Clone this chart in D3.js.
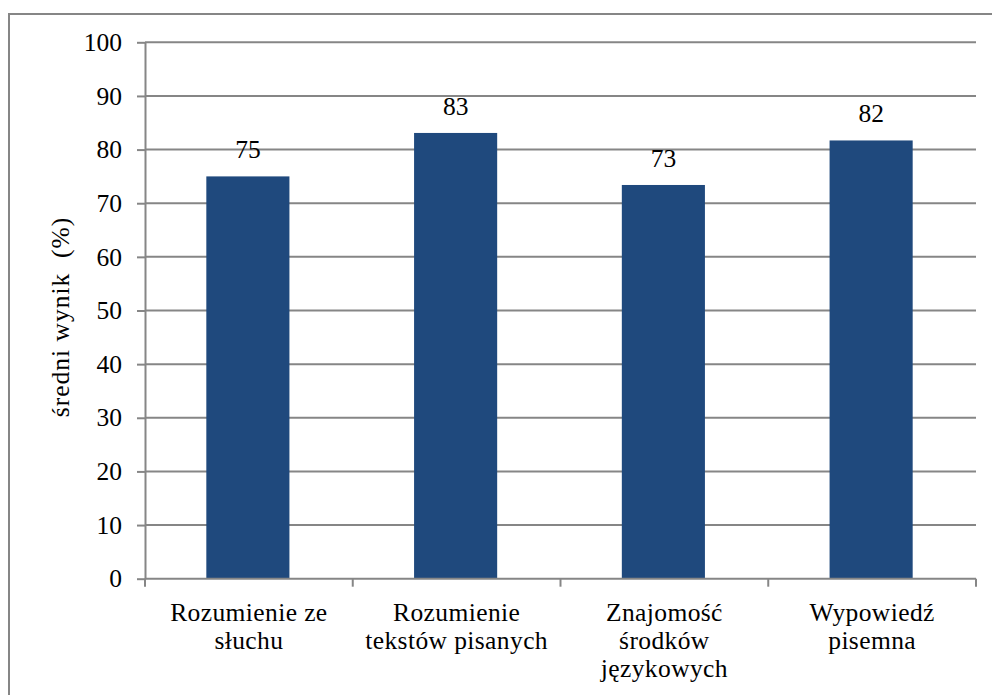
<!DOCTYPE html>
<html>
<head>
<meta charset="utf-8">
<script src="https://cdn.jsdelivr.net/npm/d3@7"></script>
</head>
<body style="margin:0">
<script>
// Data
const categories = [
  ["Rozumienie ze", "słuchu"],
  ["Rozumienie", "tekstów pisanych"],
  ["Znajomość", "środków", "językowych"],
  ["Wypowiedź", "pisemna"]
];
const values = [75.0, 83.1, 73.4, 81.7];
const yTicks = [0, 10, 20, 30, 40, 50, 60, 70, 80, 90, 100];
const yTitle = "średni wynik  (%)";

const W = 992, H = 695;
const margin = { left: 145, right: W - 976, top: 42.3, bottom: H - 578.7 };
const gray = "#868686";
const barColor = "#1F497D";
const fs = 25.5;
const FONT = "\"Liberation Serif\", monospace";

const wrap = d3.select("body").append("div")
  .style("position", "relative").style("width", W + "px").style("height", H + "px")
  .style("overflow", "hidden");

const svg = wrap.append("svg")
  .attr("width", W).attr("height", H)
  .style("position", "absolute").style("left", "0px").style("top", "0px");

// outer chart border
svg.append("rect")
  .attr("x", 9).attr("y", 14)
  .attr("width", W + 20).attr("height", H + 20)
  .attr("fill", "none").attr("stroke", gray).attr("stroke-width", 2);

const keys = categories.map((c, i) => i);
const x = d3.scaleBand().domain(keys)
  .range([margin.left, W - margin.right])
  .paddingInner(0.6).paddingOuter(0.3);
const y = d3.scaleLinear().domain([0, 100]).range([H - margin.bottom, margin.top]);

// gridlines
svg.append("g").selectAll("line").data(yTicks.filter(d => d > 0)).join("line")
  .attr("x1", margin.left).attr("x2", W - margin.right)
  .attr("y1", d => y(d)).attr("y2", d => y(d))
  .attr("stroke", gray).attr("stroke-width", 2);

// bars
svg.append("g").selectAll("rect").data(values).join("rect")
  .attr("x", (d, i) => x(i) - 1)
  .attr("width", x.bandwidth())
  .attr("y", d => y(d))
  .attr("height", d => y(0) - y(d))
  .attr("fill", barColor);

// y axis
const yAxis = d3.axisLeft(y).tickValues(yTicks).tickSize(8).tickPadding(15).tickSizeOuter(0);
const gy = svg.append("g").attr("transform", `translate(${margin.left},0)`).call(yAxis);
gy.attr("font-family", null).attr("font-size", null);
gy.select(".domain").attr("stroke", gray).attr("stroke-width", 2);
gy.selectAll(".tick line").attr("stroke", gray).attr("stroke-width", 2);
gy.selectAll(".tick text")
  .style("font-family", FONT)
  .style("font-size", fs + "px")
  .attr("fill", "#000");

// x axis line
const x0 = x.range()[0], step = x.step();
svg.append("line")
  .attr("x1", x0).attr("x2", W - margin.right)
  .attr("y1", y(0)).attr("y2", y(0))
  .attr("stroke", gray).attr("stroke-width", 2);
// category boundary ticks
svg.append("g").selectAll("line").data(d3.range(categories.length + 1)).join("line")
  .attr("x1", i => x0 + i * step).attr("x2", i => x0 + i * step)
  .attr("y1", y(0)).attr("y2", y(0) + 8)
  .attr("stroke", gray).attr("stroke-width", 2);

// HTML text labels; (x, baseline) positions computed from the scales
const baseOff = 0.8375 * fs; // baseline distance from top of a line-height:1 box
const labels = [];
values.forEach((v, i) => labels.push({
  t: d3.format(".0f")(v), x: x(i) - 1 + x.bandwidth() / 2, b: y(v) - 18, ls: 0
}));
categories.forEach((lines, i) => lines.forEach((t, j) => labels.push({
  t, x: x(i) + x.bandwidth() / 2, b: y(0) + 42.5 + j * 28.3, ls: 0.4
})));

wrap.selectAll("div.lbl").data(labels).join("div")
  .attr("class", "lbl")
  .style("position", "absolute")
  .style("left", d => d.x + "px")
  .style("top", d => (d.b - baseOff) + "px")
  .style("transform", "translateX(-50%)")
  .style("font-family", FONT)
  .style("font-size", fs + "px")
  .style("line-height", "1")
  .style("letter-spacing", d => d.ls + "px")
  .style("white-space", "pre")
  .style("color", "#000")
  .text(d => d.t);

// rotated y title: baseline at x=70, centred at y=317
wrap.append("div")
  .attr("class", "ytitle")
  .style("position", "absolute")
  .style("left", (70 - (baseOff - fs / 2)) + "px")
  .style("top", "317px")
  .style("transform", "translate(-50%, -50%) rotate(-90deg)")
  .style("font-family", FONT)
  .style("font-size", fs + "px")
  .style("line-height", "1")
  .style("letter-spacing", "1px")
  .style("white-space", "pre")
  .style("color", "#000")
  .text(yTitle);
</script>
</body>
</html>
